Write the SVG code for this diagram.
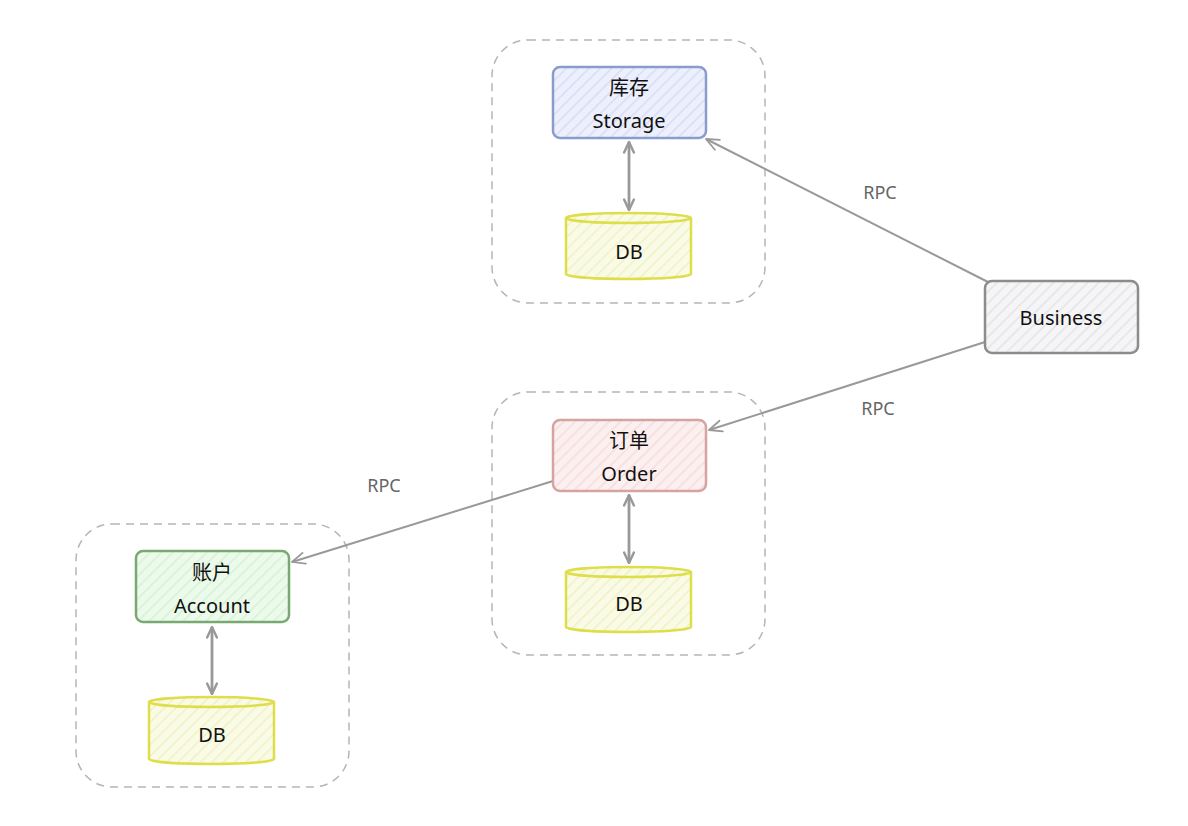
<svg xmlns="http://www.w3.org/2000/svg" width="1188" height="826" viewBox="0 0 1188 826">
<defs>
<style>
.grp{fill:none;stroke:#b5b5b5;stroke-width:1.5;stroke-dasharray:8 6}
.t{font-family:"Noto Sans","Noto Sans CJK SC",sans-serif;font-size:20px;font-weight:400;fill:#111;text-anchor:middle}
.lbl{font-family:"Noto Sans",sans-serif;font-size:18px;fill:#666;text-anchor:middle}
.conn{fill:none;stroke:#999;stroke-width:2}
.vconn{fill:none;stroke:#999;stroke-width:2.8}
.db{stroke:#dede4a;stroke-width:2.5;fill:url(#hy)}
</style>
<pattern id="hb" width="8" height="8" patternUnits="userSpaceOnUse" patternTransform="rotate(45)"><rect width="8" height="8" fill="#edf0fc"/><line x1="0" y1="0" x2="0" y2="8" stroke="#d6dcf6" stroke-width="3"/></pattern>
<pattern id="hr" width="8" height="8" patternUnits="userSpaceOnUse" patternTransform="rotate(45)"><rect width="8" height="8" fill="#fcefef"/><line x1="0" y1="0" x2="0" y2="8" stroke="#f7dcdc" stroke-width="3"/></pattern>
<pattern id="hg" width="8" height="8" patternUnits="userSpaceOnUse" patternTransform="rotate(45)"><rect width="8" height="8" fill="#ecfaec"/><line x1="0" y1="0" x2="0" y2="8" stroke="#d4f2d4" stroke-width="3"/></pattern>
<pattern id="hk" width="8" height="8" patternUnits="userSpaceOnUse" patternTransform="rotate(45)"><rect width="8" height="8" fill="#f5f5f7"/><line x1="0" y1="0" x2="0" y2="8" stroke="#e4e4e8" stroke-width="3"/></pattern>
<pattern id="hy" width="8" height="8" patternUnits="userSpaceOnUse" patternTransform="rotate(45)"><rect width="8" height="8" fill="#fafbe6"/><line x1="0" y1="0" x2="0" y2="8" stroke="#eff1c4" stroke-width="3"/></pattern>
<marker id="ah" viewBox="0 0 20 20" refX="18" refY="10" markerWidth="14" markerHeight="14" markerUnits="userSpaceOnUse" orient="auto-start-reverse"><path d="M3,3 L18,10 L3,17" fill="none" stroke="#999" stroke-width="3.5" stroke-linecap="round" stroke-linejoin="round"/></marker>
<marker id="ahl" viewBox="0 0 20 20" refX="18" refY="10" markerWidth="16" markerHeight="16" markerUnits="userSpaceOnUse" orient="auto-start-reverse"><path d="M2,3 L18,10 L2,17" fill="none" stroke="#999" stroke-width="2.2" stroke-linecap="round" stroke-linejoin="round"/></marker>
</defs>
<rect width="1188" height="826" fill="#ffffff"/>

<g id="group-storage"><rect class="grp" x="492" y="40" width="273" height="263" rx="36"/></g>
<g id="group-order"><rect class="grp" x="492" y="392" width="273" height="263" rx="36"/></g>
<g id="group-account"><rect class="grp" x="76" y="524" width="273" height="263" rx="36"/></g>

<g id="connectors">
<line class="vconn" x1="629" y1="142" x2="629" y2="210" marker-start="url(#ah)" marker-end="url(#ah)"/>
<line class="vconn" x1="629" y1="495" x2="629" y2="563" marker-start="url(#ah)" marker-end="url(#ah)"/>
<line class="vconn" x1="212" y1="627" x2="212" y2="694" marker-start="url(#ah)" marker-end="url(#ah)"/>
<line class="conn" x1="988" y1="282" x2="706" y2="139" marker-end="url(#ahl)"/>
<line class="conn" x1="985" y1="342" x2="709" y2="430" marker-end="url(#ahl)"/>
<line class="conn" x1="553" y1="481" x2="292" y2="562" marker-end="url(#ahl)"/>
<text class="lbl" x="880" y="199">RPC</text>
<text class="lbl" x="878" y="415">RPC</text>
<text class="lbl" x="384" y="492">RPC</text>
</g>

<g id="storage">
<rect x="553" y="67" width="153" height="71" rx="7" fill="url(#hb)" stroke="#8a9ccc" stroke-width="2.5"/>
<text class="t" x="629" y="95">库存</text>
<text class="t" x="629" y="128">Storage</text>
</g>
<g id="storage-db">
<path class="db" d="M566,218 L566,274 A62.5,5 0 0 0 691,274 L691,218 A62.5,5 0 0 0 566,218 Z"/>
<path d="M566,218 A62.5,5 0 0 0 691,218" fill="none" stroke="#dede4a" stroke-width="2.5"/>
<text class="t" x="629" y="259">DB</text>
</g>

<g id="business">
<rect x="985" y="281" width="153" height="72" rx="7" fill="url(#hk)" stroke="#8c8c8c" stroke-width="2.5"/>
<text class="t" x="1061" y="325">Business</text>
</g>

<g id="order">
<rect x="553" y="420" width="153" height="71" rx="7" fill="url(#hr)" stroke="#d6a3a3" stroke-width="2.5"/>
<text class="t" x="629" y="448">订单</text>
<text class="t" x="629" y="481">Order</text>
</g>
<g id="order-db">
<path class="db" d="M566,572 L566,627 A62.5,5 0 0 0 691,627 L691,572 A62.5,5 0 0 0 566,572 Z"/>
<path d="M566,572 A62.5,5 0 0 0 691,572" fill="none" stroke="#dede4a" stroke-width="2.5"/>
<text class="t" x="629" y="611">DB</text>
</g>

<g id="account">
<rect x="136" y="551" width="153" height="71" rx="7" fill="url(#hg)" stroke="#7aa872" stroke-width="2.5"/>
<text class="t" x="212" y="580">账户</text>
<text class="t" x="212" y="613">Account</text>
</g>
<g id="account-db">
<path class="db" d="M149,702 L149,759 A62.5,5 0 0 0 274,759 L274,702 A62.5,5 0 0 0 149,702 Z"/>
<path d="M149,702 A62.5,5 0 0 0 274,702" fill="none" stroke="#dede4a" stroke-width="2.5"/>
<text class="t" x="212" y="742">DB</text>
</g>
</svg>
